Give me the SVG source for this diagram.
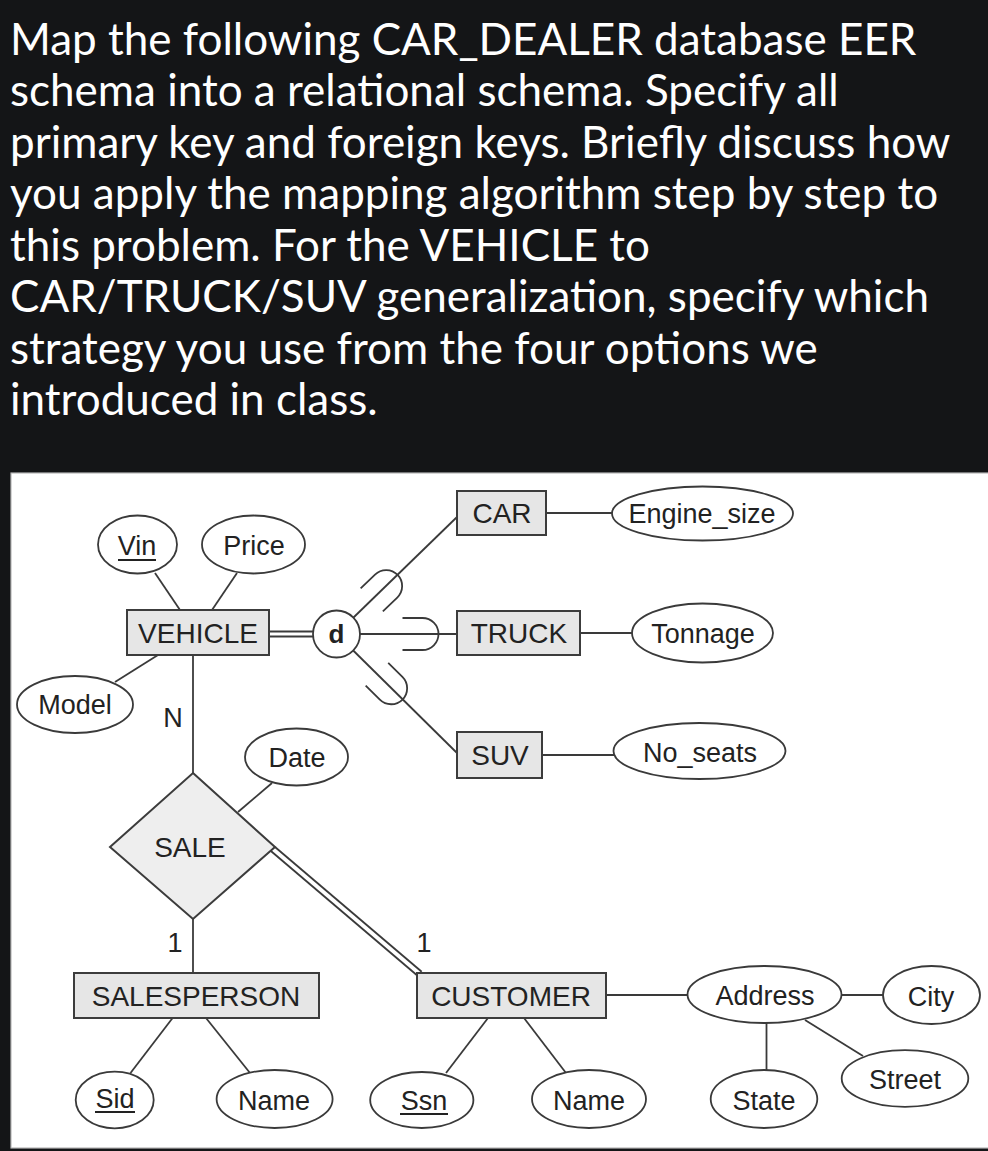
<svg xmlns="http://www.w3.org/2000/svg" width="988" height="1151" viewBox="0 0 988 1151">
<defs>
<style>
.hdr{font-family:Lato,"Liberation Sans",sans-serif;font-size:44px;fill:#ffffff}
.ent rect{fill:#e6e6e6;stroke:#3c3c3c;stroke-width:2}
.rel polygon{fill:#eeeeee;stroke:#3c3c3c;stroke-width:2}
.att ellipse{fill:#ffffff;stroke:#3a3a3a;stroke-width:1.8}
.lbl{font-family:"Liberation Sans",Arial,sans-serif;fill:#222222;text-anchor:middle}
.e{font-size:28px}
.a{font-size:27px}
.ln{stroke:#3a3a3a;stroke-width:1.8;fill:none}
.ul{stroke:#222222;stroke-width:1.8}
</style>
<path id="sub" d="M -20 -16 H 0 A 16 16 0 0 1 0 16 H -20" fill="none" stroke="#3a3a3a" stroke-width="1.8"/>
</defs>
<rect x="0" y="0" width="988" height="1151" fill="#141517"/>
<g id="question">
<text class="hdr" x="10" y="55">Map the following CAR_DEALER database EER</text>
<text class="hdr" x="10" y="106">schema into a relational schema. Specify all</text>
<text class="hdr" x="10" y="158">primary key and foreign keys. Briefly discuss how</text>
<text class="hdr" x="10" y="209">you apply the mapping algorithm step by step to</text>
<text class="hdr" x="10" y="261">this problem. For the VEHICLE to</text>
<text class="hdr" x="10" y="312">CAR/TRUCK/SUV generalization, specify which</text>
<text class="hdr" x="10" y="364">strategy you use from the four options we</text>
<text class="hdr" x="10" y="415">introduced in class.</text>
</g>
<rect x="11" y="473" width="978" height="675" fill="#ffffff" stroke="#b8b8b8" stroke-width="1.2"/>
<g id="connectors">
<line class="ln" x1="155" y1="573" x2="180" y2="610"/>
<line class="ln" x1="237" y1="573" x2="212" y2="610"/>
<line class="ln" x1="115" y1="682" x2="158" y2="655"/>
<line class="ln" x1="269" y1="631.5" x2="320" y2="631.5"/>
<line class="ln" x1="269" y1="636.5" x2="320" y2="636.5"/>
<line class="ln" x1="336.5" y1="634" x2="457" y2="517"/>
<line class="ln" x1="336.5" y1="634" x2="457" y2="634"/>
<line class="ln" x1="336.5" y1="634" x2="457" y2="753"/>
<use href="#sub" transform="translate(336.5,634) rotate(-44) translate(69,0)"/>
<use href="#sub" transform="translate(336.5,634) translate(86,0)"/>
<use href="#sub" transform="translate(336.5,634) rotate(44.8) translate(77,0)"/>
<line class="ln" x1="546" y1="513" x2="613" y2="513"/>
<line class="ln" x1="580" y1="633" x2="633" y2="633"/>
<line class="ln" x1="542" y1="755" x2="614" y2="755"/>
<line class="ln" x1="193" y1="655" x2="193" y2="780"/>
<line class="ln" x1="238" y1="812" x2="272" y2="783"/>
<line class="ln" x1="193" y1="915" x2="193" y2="973"/>
<line class="ln" x1="275" y1="847" x2="421.7" y2="971.7"/>
<line class="ln" x1="270" y1="850.3" x2="416.7" y2="975"/>
<line class="ln" x1="172.6" y1="1018" x2="130.5" y2="1073"/>
<line class="ln" x1="206" y1="1018" x2="250" y2="1073"/>
<line class="ln" x1="488" y1="1018" x2="446" y2="1073"/>
<line class="ln" x1="524" y1="1018" x2="566" y2="1073"/>
<line class="ln" x1="606" y1="995" x2="688" y2="995"/>
<line class="ln" x1="841" y1="995" x2="884" y2="995"/>
<line class="ln" x1="766.5" y1="1023" x2="766.5" y2="1071"/>
<line class="ln" x1="805" y1="1020" x2="863" y2="1056"/>
</g>
<g id="vehicle" class="ent"><rect x="127" y="610" width="142" height="45"/><text class="lbl e" x="198" y="643">VEHICLE</text></g>
<g id="car" class="ent"><rect x="457" y="491" width="89" height="44"/><text class="lbl e" x="502" y="523">CAR</text></g>
<g id="truck" class="ent"><rect x="457" y="611" width="123" height="44"/><text class="lbl e" x="519" y="643">TRUCK</text></g>
<g id="suv" class="ent"><rect x="457" y="732" width="85" height="46"/><text class="lbl e" x="500" y="765">SUV</text></g>
<g id="salesperson" class="ent"><rect x="74" y="973" width="245" height="45"/><text class="lbl e" x="196" y="1006">SALESPERSON</text></g>
<g id="customer" class="ent"><rect x="417" y="973" width="189" height="45"/><text class="lbl e" x="511" y="1006">CUSTOMER</text></g>
<g id="d-circle"><circle cx="336.5" cy="634" r="23.5" fill="#ffffff" stroke="#3a3a3a" stroke-width="1.8"/><text class="lbl" x="336.5" y="643" font-size="26" font-weight="bold">d</text></g>
<g id="sale" class="rel"><polygon points="193,773 275,847 193,919 110,847"/><text class="lbl e" x="190" y="857">SALE</text></g>
<g id="vin" class="att"><ellipse cx="137.5" cy="544.5" rx="39.5" ry="29"/><text class="lbl a" x="137" y="555">Vin</text><line class="ul" x1="118" y1="560" x2="156" y2="560"/></g>
<g id="price" class="att"><ellipse cx="253.5" cy="544.5" rx="51.5" ry="29"/><text class="lbl a" x="254" y="555">Price</text></g>
<g id="model" class="att"><ellipse cx="75" cy="704.5" rx="58" ry="28.5"/><text class="lbl a" x="75" y="714">Model</text></g>
<g id="engine_size" class="att"><ellipse cx="702.5" cy="513.5" rx="90.5" ry="27"/><text class="lbl a" x="702" y="523">Engine_size</text></g>
<g id="tonnage" class="att"><ellipse cx="702.5" cy="633" rx="70.5" ry="29.5"/><text class="lbl a" x="703" y="643">Tonnage</text></g>
<g id="no_seats" class="att"><ellipse cx="699.5" cy="751" rx="86" ry="28"/><text class="lbl a" x="700" y="762">No_seats</text></g>
<g id="date" class="att"><ellipse cx="296.5" cy="757" rx="51.5" ry="28.5"/><text class="lbl a" x="297" y="767">Date</text></g>
<g id="address" class="att"><ellipse cx="764.5" cy="994.5" rx="77" ry="28.5"/><text class="lbl a" x="765" y="1005">Address</text></g>
<g id="city" class="att"><ellipse cx="931.5" cy="995" rx="48.5" ry="29"/><text class="lbl a" x="931" y="1006">City</text></g>
<g id="state" class="att"><ellipse cx="764" cy="1099" rx="53.3" ry="29"/><text class="lbl a" x="764" y="1110">State</text></g>
<g id="street" class="att"><ellipse cx="905" cy="1078.5" rx="63.3" ry="28.3"/><text class="lbl a" x="905" y="1089">Street</text></g>
<g id="sid" class="att"><ellipse cx="114.7" cy="1100" rx="39" ry="28.3"/><text class="lbl a" x="115" y="1108">Sid</text><line class="ul" x1="95" y1="1112" x2="135" y2="1112"/></g>
<g id="sp_name" class="att"><ellipse cx="274.6" cy="1099" rx="58" ry="29"/><text class="lbl a" x="274" y="1110">Name</text></g>
<g id="ssn" class="att"><ellipse cx="421.8" cy="1100" rx="51.6" ry="28"/><text class="lbl a" x="424" y="1110">Ssn</text><line class="ul" x1="400" y1="1114" x2="448" y2="1114"/></g>
<g id="cu_name" class="att"><ellipse cx="589" cy="1099" rx="57" ry="29"/><text class="lbl a" x="589" y="1110">Name</text></g>
<g id="cardinalities">
<text class="lbl a" x="173" y="727">N</text>
<text class="lbl a" x="175" y="952" font-size="25">1</text>
<text class="lbl a" x="424" y="952" font-size="25">1</text>
</g>
</svg>
